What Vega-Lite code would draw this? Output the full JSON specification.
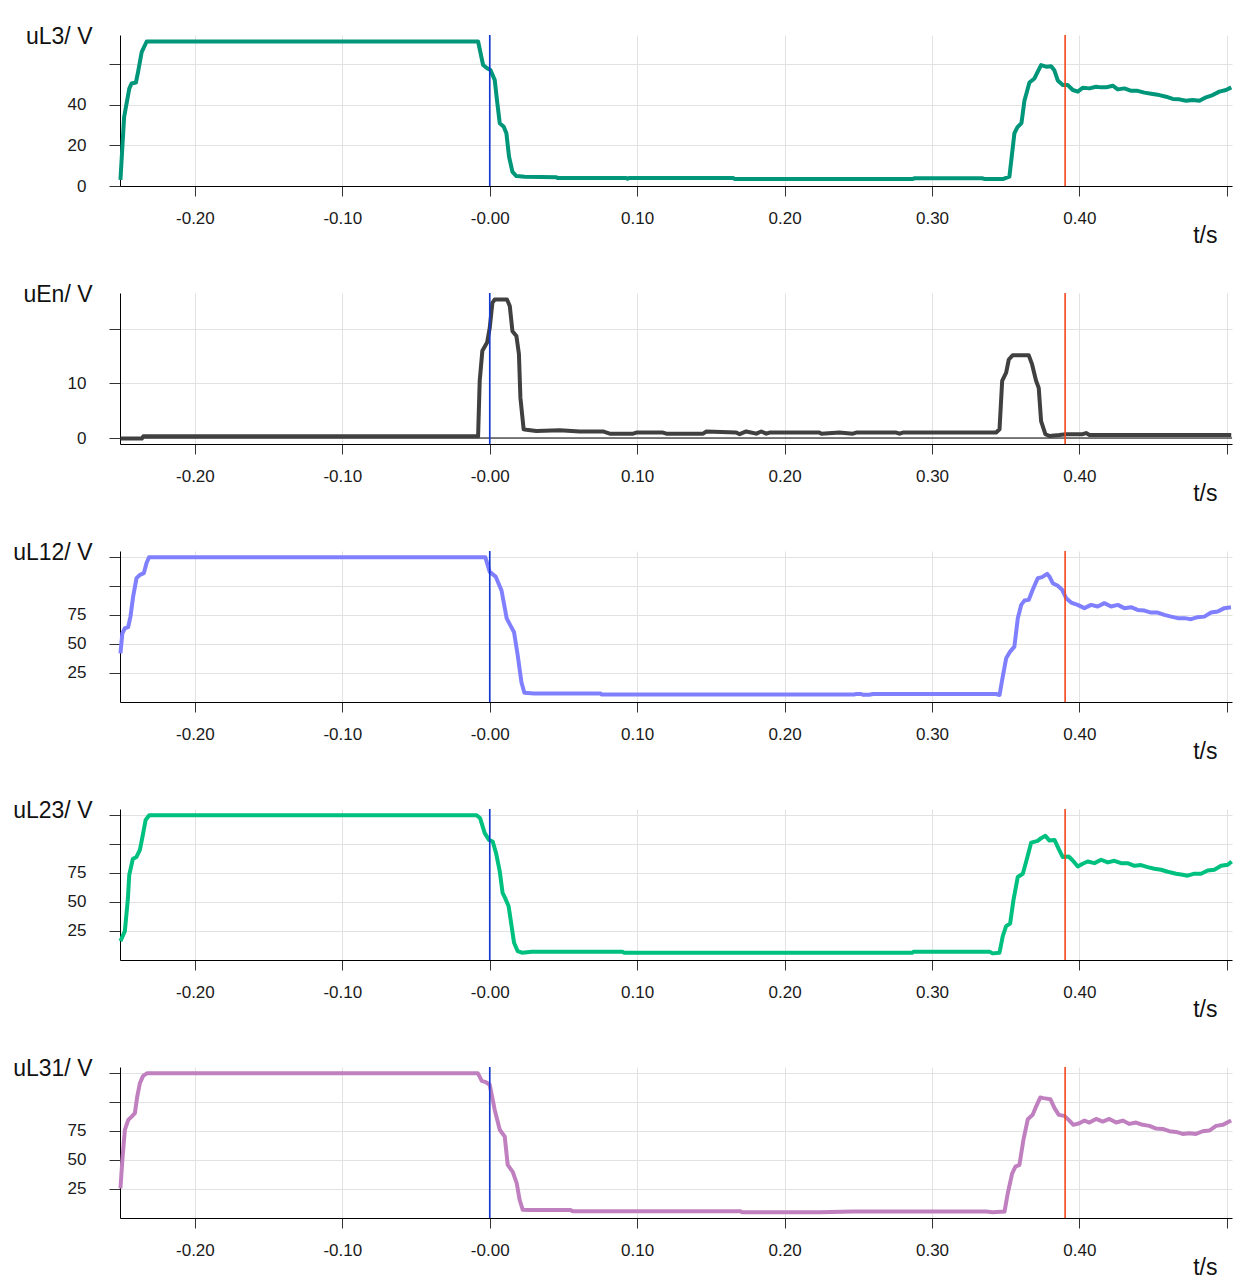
{
  "$schema": "https://vega.github.io/schema/vega-lite/v6.json",
  "background": "white",
  "padding": {"left": 12, "top": 25, "right": 5, "bottom": 5},
  "spacing": 107,
  "bounds": "flush",
  "datasets": {
    "uL3": [
      {"t": -0.2505, "v": 3}, {"t": -0.248, "v": 34}, {"t": -0.2445, "v": 48}, {"t": -0.243, "v": 50.5},
      {"t": -0.24, "v": 51}, {"t": -0.2386, "v": 56}, {"t": -0.2361, "v": 66}, {"t": -0.2327, "v": 71.2},
      {"t": -0.0079, "v": 71.2}, {"t": -0.0045, "v": 59.6}, {"t": -0.0018, "v": 58}, {"t": 0.0005, "v": 57.1},
      {"t": 0.0034, "v": 52.2}, {"t": 0.0049, "v": 42.4}, {"t": 0.0068, "v": 30.9}, {"t": 0.0095, "v": 29.2},
      {"t": 0.0113, "v": 26}, {"t": 0.0131, "v": 14.4}, {"t": 0.0154, "v": 7}, {"t": 0.0181, "v": 4.9},
      {"t": 0.0237, "v": 4.6}, {"t": 0.0452, "v": 4.3}, {"t": 0.046, "v": 4.0}, {"t": 0.0925, "v": 4.0},
      {"t": 0.0935, "v": 3.6}, {"t": 0.0945, "v": 4.0}, {"t": 0.165, "v": 4.0}, {"t": 0.166, "v": 3.5},
      {"t": 0.287, "v": 3.5}, {"t": 0.288, "v": 3.8}, {"t": 0.334, "v": 3.8}, {"t": 0.336, "v": 3.4},
      {"t": 0.348, "v": 3.4}, {"t": 0.3525, "v": 4.6}, {"t": 0.3559, "v": 26}, {"t": 0.358, "v": 29},
      {"t": 0.3607, "v": 31}, {"t": 0.3627, "v": 42}, {"t": 0.3661, "v": 51}, {"t": 0.3695, "v": 53},
      {"t": 0.3715, "v": 56}, {"t": 0.374, "v": 59.6}, {"t": 0.3774, "v": 58.8}, {"t": 0.3808, "v": 59},
      {"t": 0.383, "v": 57}, {"t": 0.3853, "v": 52}, {"t": 0.3887, "v": 49.8}, {"t": 0.392, "v": 49.8},
      {"t": 0.3955, "v": 47.3}, {"t": 0.3989, "v": 46.5}, {"t": 0.4022, "v": 48.4}, {"t": 0.4068, "v": 48.1},
      {"t": 0.4113, "v": 48.9}, {"t": 0.4147, "v": 48.6}, {"t": 0.4181, "v": 48.6}, {"t": 0.4226, "v": 49.4},
      {"t": 0.426, "v": 47.6}, {"t": 0.4305, "v": 48.1}, {"t": 0.4351, "v": 46.9}, {"t": 0.4395, "v": 46.9},
      {"t": 0.4441, "v": 46}, {"t": 0.4497, "v": 45.3}, {"t": 0.4542, "v": 44.8}, {"t": 0.4588, "v": 44},
      {"t": 0.4633, "v": 42.9}, {"t": 0.4678, "v": 42.7}, {"t": 0.4723, "v": 42}, {"t": 0.4768, "v": 42.4},
      {"t": 0.4814, "v": 42}, {"t": 0.4859, "v": 43.7}, {"t": 0.4904, "v": 44.8}, {"t": 0.4949, "v": 46.5},
      {"t": 0.4995, "v": 47.3}, {"t": 0.503, "v": 48.6}
    ],
    "uEn": [
      {"t": -0.2505, "v": -0.1}, {"t": -0.236, "v": -0.1}, {"t": -0.235, "v": 0.3}, {"t": -0.0079, "v": 0.3},
      {"t": -0.0068, "v": 10.5}, {"t": -0.005, "v": 16}, {"t": -0.0018, "v": 17.5}, {"t": 0.0, "v": 20.2},
      {"t": 0.0018, "v": 24.8}, {"t": 0.0034, "v": 25.4}, {"t": 0.0117, "v": 25.4}, {"t": 0.0136, "v": 24.2},
      {"t": 0.0154, "v": 19.6}, {"t": 0.0181, "v": 18.7}, {"t": 0.0198, "v": 15.4}, {"t": 0.0208, "v": 7.4},
      {"t": 0.023, "v": 1.6}, {"t": 0.0249, "v": 1.5}, {"t": 0.0316, "v": 1.3}, {"t": 0.0475, "v": 1.4},
      {"t": 0.061, "v": 1.2}, {"t": 0.0768, "v": 1.2}, {"t": 0.0814, "v": 0.8}, {"t": 0.0972, "v": 0.8},
      {"t": 0.0995, "v": 1.0}, {"t": 0.1175, "v": 1.0}, {"t": 0.1198, "v": 0.8}, {"t": 0.1447, "v": 0.8},
      {"t": 0.147, "v": 1.2}, {"t": 0.1672, "v": 1.0}, {"t": 0.1695, "v": 0.7}, {"t": 0.174, "v": 1.2},
      {"t": 0.1808, "v": 0.8}, {"t": 0.1842, "v": 1.2}, {"t": 0.1876, "v": 0.8}, {"t": 0.1898, "v": 1.0},
      {"t": 0.2237, "v": 1.0}, {"t": 0.2248, "v": 0.8}, {"t": 0.2372, "v": 1.0}, {"t": 0.2463, "v": 0.8},
      {"t": 0.2486, "v": 1.0}, {"t": 0.2757, "v": 1.0}, {"t": 0.278, "v": 0.8}, {"t": 0.2802, "v": 1.0},
      {"t": 0.3435, "v": 1.0}, {"t": 0.3458, "v": 1.6}, {"t": 0.3476, "v": 10.5}, {"t": 0.3503, "v": 12},
      {"t": 0.3521, "v": 14.4}, {"t": 0.3548, "v": 15.2}, {"t": 0.3656, "v": 15.2}, {"t": 0.3679, "v": 13.5},
      {"t": 0.3706, "v": 10.5}, {"t": 0.3724, "v": 9.2}, {"t": 0.374, "v": 3.1}, {"t": 0.3769, "v": 0.7},
      {"t": 0.3797, "v": 0.37}, {"t": 0.3864, "v": 0.55}, {"t": 0.3909, "v": 0.7}, {"t": 0.4022, "v": 0.7},
      {"t": 0.4045, "v": 0.9}, {"t": 0.4068, "v": 0.55}, {"t": 0.503, "v": 0.55}
    ],
    "uL12": [
      {"t": -0.2505, "v": 41.9}, {"t": -0.2492, "v": 59.2}, {"t": -0.2475, "v": 63.5}, {"t": -0.2453, "v": 64.4},
      {"t": -0.2437, "v": 73.5}, {"t": -0.2419, "v": 90.8}, {"t": -0.2396, "v": 106.6}, {"t": -0.2373, "v": 109.5},
      {"t": -0.2346, "v": 111}, {"t": -0.2328, "v": 119.6}, {"t": -0.2311, "v": 124.7}, {"t": -0.003, "v": 124.7},
      {"t": 0.0, "v": 112}, {"t": 0.004, "v": 108}, {"t": 0.008, "v": 96}, {"t": 0.0115, "v": 72},
      {"t": 0.014, "v": 66}, {"t": 0.0165, "v": 60}, {"t": 0.019, "v": 40}, {"t": 0.0215, "v": 17},
      {"t": 0.0235, "v": 8}, {"t": 0.03, "v": 7.3}, {"t": 0.075, "v": 7.3}, {"t": 0.076, "v": 6.5},
      {"t": 0.2475, "v": 6.5}, {"t": 0.2486, "v": 6.9}, {"t": 0.252, "v": 6.9}, {"t": 0.2531, "v": 6.2},
      {"t": 0.2575, "v": 6.2}, {"t": 0.2599, "v": 6.9}, {"t": 0.3435, "v": 6.9}, {"t": 0.3458, "v": 6},
      {"t": 0.3476, "v": 19}, {"t": 0.3503, "v": 37.6}, {"t": 0.353, "v": 43.4}, {"t": 0.3559, "v": 47.7},
      {"t": 0.3582, "v": 72.1}, {"t": 0.3605, "v": 83.6}, {"t": 0.3627, "v": 87.3}, {"t": 0.3656, "v": 87.9},
      {"t": 0.3683, "v": 96.6}, {"t": 0.3717, "v": 106.6}, {"t": 0.3747, "v": 107.5}, {"t": 0.3781, "v": 110.3},
      {"t": 0.3797, "v": 108}, {"t": 0.3819, "v": 102.3}, {"t": 0.3853, "v": 100}, {"t": 0.3883, "v": 96.6},
      {"t": 0.391, "v": 89.4}, {"t": 0.3944, "v": 85.6}, {"t": 0.3988, "v": 83.6}, {"t": 0.4034, "v": 80.8},
      {"t": 0.4079, "v": 83.6}, {"t": 0.4124, "v": 82.2}, {"t": 0.4169, "v": 85.1}, {"t": 0.4215, "v": 82.2},
      {"t": 0.426, "v": 83.6}, {"t": 0.4305, "v": 80.8}, {"t": 0.435, "v": 81.6}, {"t": 0.4395, "v": 79.3},
      {"t": 0.4441, "v": 78.7}, {"t": 0.4486, "v": 77}, {"t": 0.4531, "v": 77}, {"t": 0.4576, "v": 75},
      {"t": 0.4622, "v": 73.5}, {"t": 0.4667, "v": 72.2}, {"t": 0.4712, "v": 72.2}, {"t": 0.4757, "v": 71.3},
      {"t": 0.4802, "v": 73}, {"t": 0.4847, "v": 73.5}, {"t": 0.4893, "v": 77}, {"t": 0.4938, "v": 77.9},
      {"t": 0.4983, "v": 80.8}, {"t": 0.5028, "v": 81.6}
    ],
    "uL23": [
      {"t": -0.2505, "v": 16.3}, {"t": -0.2475, "v": 24.9}, {"t": -0.2455, "v": 52}, {"t": -0.2445, "v": 73.4},
      {"t": -0.2421, "v": 86.9}, {"t": -0.2397, "v": 88.6}, {"t": -0.2373, "v": 94.9}, {"t": -0.2353, "v": 107.7},
      {"t": -0.2334, "v": 120.6}, {"t": -0.231, "v": 124.6}, {"t": -0.0089, "v": 124.6}, {"t": -0.0065, "v": 122},
      {"t": -0.0034, "v": 109.2}, {"t": -0.0005, "v": 103.4}, {"t": 0.002, "v": 102}, {"t": 0.0043, "v": 92},
      {"t": 0.0068, "v": 76.3}, {"t": 0.0087, "v": 57.8}, {"t": 0.0104, "v": 53.5}, {"t": 0.0128, "v": 46.3},
      {"t": 0.0145, "v": 32}, {"t": 0.0165, "v": 14.9}, {"t": 0.0189, "v": 7.7}, {"t": 0.0218, "v": 6.3},
      {"t": 0.0285, "v": 7.2}, {"t": 0.09, "v": 7.2}, {"t": 0.091, "v": 6.3}, {"t": 0.2868, "v": 6.3},
      {"t": 0.2875, "v": 7.2}, {"t": 0.339, "v": 7.2}, {"t": 0.341, "v": 5.7}, {"t": 0.3458, "v": 6.3},
      {"t": 0.348, "v": 20.6}, {"t": 0.3503, "v": 29.1}, {"t": 0.353, "v": 31.4}, {"t": 0.3553, "v": 52},
      {"t": 0.3582, "v": 71.5}, {"t": 0.3616, "v": 74.3}, {"t": 0.3639, "v": 84.8}, {"t": 0.3673, "v": 101.1},
      {"t": 0.3717, "v": 102.6}, {"t": 0.374, "v": 104.9}, {"t": 0.3769, "v": 106.9}, {"t": 0.3797, "v": 102.8},
      {"t": 0.3831, "v": 103.4}, {"t": 0.386, "v": 95.4}, {"t": 0.3887, "v": 88.6}, {"t": 0.3927, "v": 89.1},
      {"t": 0.3955, "v": 85.7}, {"t": 0.3989, "v": 80.5}, {"t": 0.4022, "v": 82.9}, {"t": 0.4056, "v": 84.8},
      {"t": 0.4102, "v": 83.4}, {"t": 0.4147, "v": 86.3}, {"t": 0.4192, "v": 84}, {"t": 0.4237, "v": 85.4},
      {"t": 0.4283, "v": 83.4}, {"t": 0.4327, "v": 83.4}, {"t": 0.4373, "v": 81.1}, {"t": 0.4418, "v": 81.7},
      {"t": 0.4463, "v": 80}, {"t": 0.4508, "v": 78.6}, {"t": 0.4554, "v": 77.7}, {"t": 0.4599, "v": 76},
      {"t": 0.4656, "v": 74.3}, {"t": 0.47, "v": 73.4}, {"t": 0.4734, "v": 72.6}, {"t": 0.478, "v": 74.3},
      {"t": 0.4825, "v": 74.3}, {"t": 0.487, "v": 77.1}, {"t": 0.4915, "v": 77.7}, {"t": 0.4961, "v": 81.1},
      {"t": 0.5006, "v": 82}, {"t": 0.5033, "v": 84.8}
    ],
    "uL31": [
      {"t": -0.2505, "v": 25.6}, {"t": -0.2492, "v": 50}, {"t": -0.2475, "v": 75.9}, {"t": -0.2452, "v": 84.5},
      {"t": -0.2429, "v": 87.3}, {"t": -0.2407, "v": 90.3}, {"t": -0.2391, "v": 104.6}, {"t": -0.2373, "v": 116.1},
      {"t": -0.2351, "v": 122.4}, {"t": -0.2323, "v": 124.7}, {"t": -0.0081, "v": 124.7}, {"t": -0.0054, "v": 118},
      {"t": -0.0027, "v": 117}, {"t": 0.0, "v": 114.7}, {"t": 0.0034, "v": 93}, {"t": 0.0068, "v": 76},
      {"t": 0.0102, "v": 70}, {"t": 0.0122, "v": 45.7}, {"t": 0.0156, "v": 39.7}, {"t": 0.0183, "v": 30},
      {"t": 0.0203, "v": 15.5}, {"t": 0.0224, "v": 7}, {"t": 0.0271, "v": 6.9}, {"t": 0.055, "v": 6.9},
      {"t": 0.056, "v": 5.9}, {"t": 0.17, "v": 5.9}, {"t": 0.171, "v": 5.0}, {"t": 0.2237, "v": 4.9},
      {"t": 0.2463, "v": 5.5}, {"t": 0.3367, "v": 5.5}, {"t": 0.3412, "v": 4.9}, {"t": 0.3492, "v": 5.5},
      {"t": 0.3514, "v": 21.3}, {"t": 0.3544, "v": 38.5}, {"t": 0.3566, "v": 44.2}, {"t": 0.3593, "v": 45.7},
      {"t": 0.362, "v": 67.2}, {"t": 0.365, "v": 85.1}, {"t": 0.3683, "v": 88.8}, {"t": 0.3706, "v": 95.9},
      {"t": 0.3734, "v": 103.7}, {"t": 0.3756, "v": 103.2}, {"t": 0.3803, "v": 102.3}, {"t": 0.3831, "v": 94.6},
      {"t": 0.386, "v": 88.8}, {"t": 0.3898, "v": 87.9}, {"t": 0.3927, "v": 84.5}, {"t": 0.3959, "v": 80.2},
      {"t": 0.4, "v": 81.6}, {"t": 0.4034, "v": 83.9}, {"t": 0.4068, "v": 82.2}, {"t": 0.4113, "v": 85.3},
      {"t": 0.4158, "v": 83}, {"t": 0.4203, "v": 85.3}, {"t": 0.4249, "v": 82.2}, {"t": 0.4294, "v": 83.9},
      {"t": 0.4339, "v": 81}, {"t": 0.4384, "v": 82.2}, {"t": 0.4429, "v": 80.2}, {"t": 0.4475, "v": 79.3},
      {"t": 0.452, "v": 77}, {"t": 0.4565, "v": 76.7}, {"t": 0.461, "v": 74.7}, {"t": 0.4656, "v": 74.1},
      {"t": 0.47, "v": 72.4}, {"t": 0.4746, "v": 73}, {"t": 0.4791, "v": 72.4}, {"t": 0.4836, "v": 74.7},
      {"t": 0.4881, "v": 75.3}, {"t": 0.4927, "v": 79.3}, {"t": 0.4972, "v": 80.2}, {"t": 0.5029, "v": 83.9}
    ],
    "cursors": [
      {"t": 0.0, "cursor": "A"},
      {"t": 0.3903, "cursor": "B"}
    ]
  },
  "vconcat": [
    {
      "width": 1112, "height": 151,
      "data": {"name": "uL3"},
      "layer": [
        {
          "mark": {"type": "line", "color": "#00967a", "strokeWidth": 4, "strokeJoin": "round"},
          "encoding": {
            "x": {"field": "t", "type": "quantitative", "scale": {"domain": [-0.2508, 0.5035], "nice": false, "zero": false},
                  "axis": {"title": "t/s", "values": [-0.2, -0.1, 0, 0.1, 0.2, 0.3, 0.4, 0.5],
                           "labelExpr": "datum.value > 0.45 ? '' : (datum.value < 0.05 ? '-' : '') + format(abs(datum.value), '.2f')"}},
            "y": {"field": "v", "type": "quantitative", "scale": {"domain": [0, 74.4], "nice": false},
                  "axis": {"title": "uL3/ V", "values": [0, 20, 40, 60], "labelExpr": "datum.value >= 60 ? '' : datum.label"}}
          }
        },
        {
          "data": {"name": "cursors"},
          "mark": {"type": "rule", "strokeWidth": 1.6},
          "encoding": {
            "x": {"field": "t", "type": "quantitative"},
            "color": {"field": "cursor", "type": "nominal", "scale": {"domain": ["A", "B"], "range": ["#1038d4", "#f2461a"]}, "legend": null}
          }
        }
      ]
    },
    {
      "width": 1112, "height": 151,
      "data": {"name": "uEn"},
      "layer": [
        {
          "data": {"values": [{"v": 0}]},
          "mark": {"type": "rule", "color": "#000000", "strokeWidth": 1},
          "encoding": {"y": {"field": "v", "type": "quantitative"}}
        },
        {
          "mark": {"type": "line", "color": "#404040", "strokeWidth": 4, "strokeJoin": "round"},
          "encoding": {
            "x": {"field": "t", "type": "quantitative", "scale": {"domain": [-0.2508, 0.5035], "nice": false, "zero": false},
                  "axis": {"title": "t/s", "values": [-0.2, -0.1, 0, 0.1, 0.2, 0.3, 0.4, 0.5],
                           "labelExpr": "datum.value > 0.45 ? '' : (datum.value < 0.05 ? '-' : '') + format(abs(datum.value), '.2f')"}},
            "y": {"field": "v", "type": "quantitative", "scale": {"domain": [-1.1, 26.6], "nice": false},
                  "axis": {"title": "uEn/ V", "values": [0, 10, 20], "labelExpr": "datum.value >= 20 ? '' : datum.label"}}
          }
        },
        {
          "data": {"name": "cursors"},
          "mark": {"type": "rule", "strokeWidth": 1.6},
          "encoding": {
            "x": {"field": "t", "type": "quantitative"},
            "color": {"field": "cursor", "type": "nominal", "scale": {"domain": ["A", "B"], "range": ["#1038d4", "#f2461a"]}, "legend": null}
          }
        }
      ]
    },
    {
      "width": 1112, "height": 151,
      "data": {"name": "uL12"},
      "layer": [
        {
          "mark": {"type": "line", "color": "#8080ff", "strokeWidth": 4, "strokeJoin": "round"},
          "encoding": {
            "x": {"field": "t", "type": "quantitative", "scale": {"domain": [-0.2508, 0.5035], "nice": false, "zero": false},
                  "axis": {"title": "t/s", "values": [-0.2, -0.1, 0, 0.1, 0.2, 0.3, 0.4, 0.5],
                           "labelExpr": "datum.value > 0.45 ? '' : (datum.value < 0.05 ? '-' : '') + format(abs(datum.value), '.2f')"}},
            "y": {"field": "v", "type": "quantitative", "scale": {"domain": [0, 130], "nice": false},
                  "axis": {"title": "uL12/ V", "values": [25, 50, 75, 100, 125], "labelExpr": "datum.value >= 100 ? '' : datum.label"}}
          }
        },
        {
          "data": {"name": "cursors"},
          "mark": {"type": "rule", "strokeWidth": 1.6},
          "encoding": {
            "x": {"field": "t", "type": "quantitative"},
            "color": {"field": "cursor", "type": "nominal", "scale": {"domain": ["A", "B"], "range": ["#1038d4", "#f2461a"]}, "legend": null}
          }
        }
      ]
    },
    {
      "width": 1112, "height": 151,
      "data": {"name": "uL23"},
      "layer": [
        {
          "mark": {"type": "line", "color": "#00c080", "strokeWidth": 4, "strokeJoin": "round"},
          "encoding": {
            "x": {"field": "t", "type": "quantitative", "scale": {"domain": [-0.2508, 0.5035], "nice": false, "zero": false},
                  "axis": {"title": "t/s", "values": [-0.2, -0.1, 0, 0.1, 0.2, 0.3, 0.4, 0.5],
                           "labelExpr": "datum.value > 0.45 ? '' : (datum.value < 0.05 ? '-' : '') + format(abs(datum.value), '.2f')"}},
            "y": {"field": "v", "type": "quantitative", "scale": {"domain": [0, 130], "nice": false},
                  "axis": {"title": "uL23/ V", "values": [25, 50, 75, 100, 125], "labelExpr": "datum.value >= 100 ? '' : datum.label"}}
          }
        },
        {
          "data": {"name": "cursors"},
          "mark": {"type": "rule", "strokeWidth": 1.6},
          "encoding": {
            "x": {"field": "t", "type": "quantitative"},
            "color": {"field": "cursor", "type": "nominal", "scale": {"domain": ["A", "B"], "range": ["#1038d4", "#f2461a"]}, "legend": null}
          }
        }
      ]
    },
    {
      "width": 1112, "height": 151,
      "data": {"name": "uL31"},
      "layer": [
        {
          "mark": {"type": "line", "color": "#c080c0", "strokeWidth": 4, "strokeJoin": "round"},
          "encoding": {
            "x": {"field": "t", "type": "quantitative", "scale": {"domain": [-0.2508, 0.5035], "nice": false, "zero": false},
                  "axis": {"title": "t/s", "values": [-0.2, -0.1, 0, 0.1, 0.2, 0.3, 0.4, 0.5],
                           "labelExpr": "datum.value > 0.45 ? '' : (datum.value < 0.05 ? '-' : '') + format(abs(datum.value), '.2f')"}},
            "y": {"field": "v", "type": "quantitative", "scale": {"domain": [0, 130], "nice": false},
                  "axis": {"title": "uL31/ V", "values": [25, 50, 75, 100, 125], "labelExpr": "datum.value >= 100 ? '' : datum.label"}}
          }
        },
        {
          "data": {"name": "cursors"},
          "mark": {"type": "rule", "strokeWidth": 1.6},
          "encoding": {
            "x": {"field": "t", "type": "quantitative"},
            "color": {"field": "cursor", "type": "nominal", "scale": {"domain": ["A", "B"], "range": ["#1038d4", "#f2461a"]}, "legend": null}
          }
        }
      ]
    }
  ],
  "resolve": {"scale": {"color": "independent"}},
  "config": {
    "view": {"stroke": null},
    "font": "Liberation Sans",
    "axis": {
      "labelFont": "Liberation Sans",
      "labelFontSize": 17,
      "labelColor": "#1a1a1a",
      "titleFont": "Liberation Sans",
      "titleFontSize": 23,
      "titleFontWeight": "normal",
      "titleColor": "#111111",
      "domainColor": "#000000",
      "domainWidth": 1,
      "tickColor": "#333333",
      "gridColor": "#e2e2e2",
      "gridWidth": 1,
      "labelOverlap": false,
      "labelFlush": false
    },
    "axisX": {
      "tickSize": 10,
      "labelPadding": 14,
      "titleAlign": "right",
      "titleBaseline": "alphabetic",
      "titleX": 1097,
      "titleY": 56
    },
    "axisY": {
      "tickSize": 11,
      "labelPadding": 23,
      "titleAngle": 0,
      "titleAlign": "right",
      "titleBaseline": "alphabetic",
      "titleX": -28,
      "titleY": 8
    }
  }
}
